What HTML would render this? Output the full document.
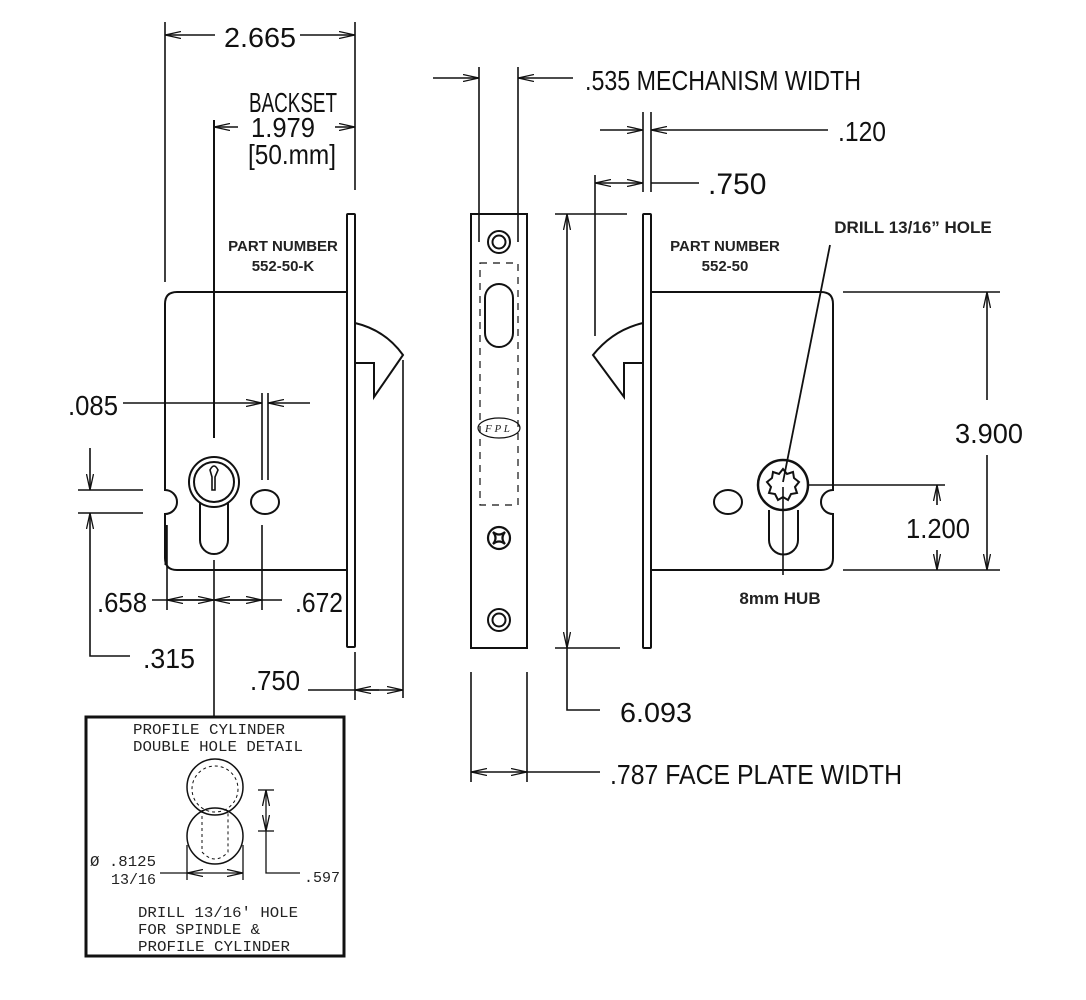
<!DOCTYPE html>
<html><head><meta charset="utf-8"><style>
html,body{margin:0;padding:0;background:#fff;}
svg{display:block}
.d{font-family:"Liberation Sans",sans-serif;font-size:28px;fill:#111;}
.b{font-family:"Liberation Sans",sans-serif;font-weight:bold;fill:#222;}
.s{font-family:"Liberation Mono",monospace;font-size:15px;fill:#222;}
</style></head><body>
<svg width="1086" height="1000" viewBox="0 0 1086 1000" xmlns="http://www.w3.org/2000/svg">
<defs>
<marker id="a" viewBox="0 0 16 8" refX="16" refY="4" markerWidth="16" markerHeight="8" markerUnits="userSpaceOnUse" orient="auto-start-reverse">
<path d="M0,0.5 L16,4 L0,7.5" fill="none" stroke="#111" stroke-width="1.3"/>
</marker>
</defs>
<g stroke="#111" stroke-width="2" fill="none">
<!-- LEFT VIEW -->
<path d="M348,292 H177 Q165,292 165,304 V490 A12,12 0 0 1 165,514 V558 Q165,570 177,570 H348"/>
<line x1="166" y1="525" x2="166" y2="565" stroke-width="3"/>
<rect x="347" y="214" width="8" height="433" rx="1"/>
<path d="M355,323 Q385,330 403,355 L374,397 V363 H355"/>
<circle cx="214" cy="482" r="25"/>
<circle cx="214" cy="482" r="20"/>
<path d="M200,502 V540 A14,14 0 0 0 228,540 V502"/>
<path d="M210,470 Q214,462 218,470 L215,477 V490 H212 V477 Z" stroke-width="1.6"/>
<ellipse cx="265" cy="502" rx="14" ry="12"/>
<line x1="214" y1="120" x2="214" y2="438"/>
<line x1="214" y1="560" x2="214" y2="716" stroke-width="1.6"/>
<line x1="165" y1="22" x2="165" y2="282" stroke-width="1.6"/>
<line x1="355" y1="22" x2="355" y2="190" stroke-width="1.6"/>
<line x1="215" y1="35" x2="165" y2="35" stroke-width="1.6" marker-end="url(#a)"/>
<line x1="300" y1="35" x2="355" y2="35" stroke-width="1.6" marker-end="url(#a)"/>
<line x1="238" y1="127" x2="214" y2="127" stroke-width="1.6" marker-end="url(#a)"/>
<line x1="335" y1="127" x2="355" y2="127" stroke-width="1.6" marker-end="url(#a)"/>
<line x1="123" y1="403" x2="262" y2="403" stroke-width="1.6" marker-end="url(#a)"/>
<line x1="310" y1="403" x2="268" y2="403" stroke-width="1.6" marker-end="url(#a)"/>
<line x1="262" y1="393" x2="262" y2="480" stroke-width="1.6"/>
<line x1="268" y1="393" x2="268" y2="480" stroke-width="1.6"/>
<line x1="78" y1="490" x2="143" y2="490" stroke-width="1.6"/>
<line x1="78" y1="513" x2="143" y2="513" stroke-width="1.6"/>
<line x1="90" y1="448" x2="90" y2="490" stroke-width="1.6" marker-end="url(#a)"/>
<path d="M90,513 V656 H130" stroke-width="1.6" marker-start="url(#a)"/>
<line x1="167" y1="525" x2="167" y2="610" stroke-width="1.6"/>
<line x1="262" y1="525" x2="262" y2="610" stroke-width="1.6"/>
<line x1="152" y1="600" x2="282" y2="600" stroke-width="1.6"/>
<line x1="190" y1="600" x2="167" y2="600" stroke-width="1.6" marker-end="url(#a)"/>
<line x1="190" y1="600" x2="214" y2="600" stroke-width="1.6" marker-end="url(#a)"/>
<line x1="238" y1="600" x2="214" y2="600" stroke-width="1.6" marker-end="url(#a)"/>
<line x1="238" y1="600" x2="262" y2="600" stroke-width="1.6" marker-end="url(#a)"/>
<line x1="403" y1="360" x2="403" y2="698" stroke-width="1.6"/>
<line x1="355" y1="652" x2="355" y2="700" stroke-width="1.6"/>
<line x1="308" y1="690" x2="379" y2="690" stroke-width="1.6"/>
<line x1="379" y1="690" x2="355" y2="690" stroke-width="1.6" marker-end="url(#a)"/>
<line x1="379" y1="690" x2="403" y2="690" stroke-width="1.6" marker-end="url(#a)"/>
<!-- detail box -->
<rect x="86" y="717" width="258" height="239" stroke-width="3"/>
<circle cx="215" cy="787" r="28" stroke-width="1.5"/>
<circle cx="215" cy="836" r="28" stroke-width="1.5"/>
<circle cx="215" cy="789" r="23" stroke-width="1" stroke-dasharray="3,3"/>
<path d="M202,810 V852 Q215,866 228,852 V810" stroke-width="1" stroke-dasharray="3,3"/>
<line x1="258" y1="790" x2="274" y2="790" stroke-width="1.3"/>
<line x1="258" y1="831" x2="274" y2="831" stroke-width="1.3"/>
<line x1="266" y1="810" x2="266" y2="790" stroke-width="1.3" marker-end="url(#a)"/>
<line x1="266" y1="810" x2="266" y2="831" stroke-width="1.3" marker-end="url(#a)"/>
<path d="M266,831 V873 H300" stroke-width="1.3"/>
<line x1="187" y1="845" x2="187" y2="880" stroke-width="1.3"/>
<line x1="243" y1="845" x2="243" y2="880" stroke-width="1.3"/>
<line x1="160" y1="873" x2="187" y2="873" stroke-width="1.3"/>
<line x1="215" y1="873" x2="187" y2="873" stroke-width="1.3" marker-end="url(#a)"/>
<line x1="215" y1="873" x2="243" y2="873" stroke-width="1.3" marker-end="url(#a)"/>

<!-- MIDDLE VIEW -->
<rect x="471" y="214" width="56" height="434"/>
<circle cx="499" cy="242" r="11"/><circle cx="499" cy="242" r="6.5"/>
<circle cx="499" cy="620" r="11"/><circle cx="499" cy="620" r="6.5"/>
<rect x="480" y="263" width="38" height="242" stroke-width="1.2" stroke-dasharray="7,6"/>
<rect x="485" y="284" width="28" height="63" rx="14"/>
<ellipse cx="499" cy="428" rx="21" ry="10" stroke-width="1.2"/>
<circle cx="499" cy="538" r="11" stroke-width="2.2"/>
<path d="M493,532 Q499,537 505,532 Q500,538 505,544 Q499,539 493,544 Q498,538 493,532Z" stroke-width="2.2"/>
<line x1="479" y1="67" x2="479" y2="242" stroke-width="1.6"/>
<line x1="518" y1="67" x2="518" y2="242" stroke-width="1.6"/>
<line x1="433" y1="78" x2="479" y2="78" stroke-width="1.6" marker-end="url(#a)"/>
<line x1="573" y1="78" x2="518" y2="78" stroke-width="1.6" marker-end="url(#a)"/>
<line x1="471" y1="672" x2="471" y2="782" stroke-width="1.6"/>
<line x1="527" y1="672" x2="527" y2="782" stroke-width="1.6"/>
<line x1="499" y1="772" x2="471" y2="772" stroke-width="1.6" marker-end="url(#a)"/>
<line x1="499" y1="772" x2="527" y2="772" stroke-width="1.6" marker-end="url(#a)"/>
<line x1="527" y1="772" x2="600" y2="772" stroke-width="1.6"/>
<line x1="555" y1="214" x2="627" y2="214" stroke-width="1.6"/>
<line x1="555" y1="648" x2="620" y2="648" stroke-width="1.6"/>
<line x1="567" y1="430" x2="567" y2="214" stroke-width="1.6" marker-end="url(#a)"/>
<line x1="567" y1="430" x2="567" y2="648" stroke-width="1.6" marker-end="url(#a)"/>
<path d="M567,648 V710 H600" stroke-width="1.6"/>

<!-- RIGHT VIEW -->
<rect x="643" y="214" width="8" height="434" rx="1"/>
<path d="M651,292 H821 Q833,292 833,304 V490 A12,12 0 0 0 833,514 V558 Q833,570 821,570 H651"/>
<path d="M643,323 Q613,330 593,355 L624,397 V363 H643"/>
<line x1="643" y1="112" x2="643" y2="192" stroke-width="1.6"/>
<line x1="651" y1="112" x2="651" y2="192" stroke-width="1.6"/>
<line x1="600" y1="130" x2="643" y2="130" stroke-width="1.6" marker-end="url(#a)"/>
<line x1="828" y1="130" x2="651" y2="130" stroke-width="1.6" marker-end="url(#a)"/>
<line x1="595" y1="175" x2="595" y2="336" stroke-width="1.6"/>
<line x1="619" y1="183" x2="595" y2="183" stroke-width="1.6" marker-end="url(#a)"/>
<line x1="619" y1="183" x2="643" y2="183" stroke-width="1.6" marker-end="url(#a)"/>
<line x1="651" y1="183" x2="699" y2="183" stroke-width="1.6"/>
<circle cx="783" cy="485" r="25" stroke-width="2.5"/>
<path d="M783,469 L787,474 L793,472 L794,478 L799,482 L795,487 L797,493 L791,494 L788,500 L783,497 L778,500 L775,494 L769,493 L771,487 L767,482 L772,478 L773,472 L779,474 Z" stroke-width="2"/>
<path d="M769,510 V540 A14,14 0 0 0 798,540 V510"/>
<ellipse cx="728" cy="502" rx="14" ry="12"/>
<line x1="783" y1="487" x2="783" y2="575" stroke-width="1.6"/>
<line x1="830" y1="245" x2="783" y2="482" stroke-width="1.8"/>
<line x1="843" y1="292" x2="1000" y2="292" stroke-width="1.6"/>
<line x1="843" y1="570" x2="1000" y2="570" stroke-width="1.6"/>
<line x1="987" y1="400" x2="987" y2="292" stroke-width="1.6" marker-end="url(#a)"/>
<line x1="987" y1="455" x2="987" y2="570" stroke-width="1.6" marker-end="url(#a)"/>
<line x1="808" y1="485" x2="945" y2="485" stroke-width="1.6"/>
<line x1="937" y1="505" x2="937" y2="485" stroke-width="1.6" marker-end="url(#a)"/>
<line x1="937" y1="550" x2="937" y2="570" stroke-width="1.6" marker-end="url(#a)"/>
</g>
<g font-size="11" font-family="Liberation Serif,serif" font-style="italic" fill="#222"><text x="485" y="432">F P L</text></g>
<text class="d" x="224" y="47" textLength="72" lengthAdjust="spacingAndGlyphs">2.665</text>
<text class="d" x="249" y="112" textLength="88" lengthAdjust="spacingAndGlyphs">BACKSET</text>
<text class="d" x="251" y="137" textLength="64" lengthAdjust="spacingAndGlyphs">1.979</text>
<text class="d" x="248" y="164" textLength="88" lengthAdjust="spacingAndGlyphs">[50.mm]</text>
<text class="d" x="68" y="415" textLength="50" lengthAdjust="spacingAndGlyphs">.085</text>
<text class="d" x="97" y="612" textLength="50" lengthAdjust="spacingAndGlyphs">.658</text>
<text class="d" x="295" y="612" textLength="48" lengthAdjust="spacingAndGlyphs">.672</text>
<text class="d" x="143" y="668" textLength="52" lengthAdjust="spacingAndGlyphs">.315</text>
<text class="d" x="250" y="690" textLength="50" lengthAdjust="spacingAndGlyphs">.750</text>
<text class="d" x="585" y="90" textLength="276" lengthAdjust="spacingAndGlyphs">.535 MECHANISM WIDTH</text>
<text class="d" x="838" y="141" textLength="48" lengthAdjust="spacingAndGlyphs">.120</text>
<text x="708" y="194" font-family="Liberation Sans,sans-serif" font-size="30" fill="#111">.750</text>
<text class="d" x="620" y="722" textLength="72" lengthAdjust="spacingAndGlyphs">6.093</text>
<text class="d" x="610" y="784" textLength="292" lengthAdjust="spacingAndGlyphs">.787 FACE PLATE WIDTH</text>
<text class="d" x="955" y="443" textLength="68" lengthAdjust="spacingAndGlyphs">3.900</text>
<text class="d" x="906" y="538" textLength="64" lengthAdjust="spacingAndGlyphs">1.200</text>
<text class="b" font-size="15" x="283" y="251" text-anchor="middle">PART NUMBER</text>
<text class="b" font-size="15" x="283" y="271" text-anchor="middle">552-50-K</text>
<text class="b" font-size="15" x="725" y="251" text-anchor="middle">PART NUMBER</text>
<text class="b" font-size="15" x="725" y="271" text-anchor="middle">552-50</text>
<text class="b" font-size="17" x="913" y="233" text-anchor="middle" fill="#444">DRILL 13/16” HOLE</text>
<text class="b" font-size="17" x="780" y="604" text-anchor="middle" fill="#444">8mm HUB</text>
<text class="s" x="133" y="734" textLength="152" lengthAdjust="spacingAndGlyphs">PROFILE CYLINDER</text>
<text class="s" x="133" y="751" textLength="170" lengthAdjust="spacingAndGlyphs">DOUBLE HOLE DETAIL</text>
<text class="s" x="90" y="866" textLength="66" lengthAdjust="spacingAndGlyphs">Ø .8125</text>
<text class="s" x="111" y="884" textLength="45" lengthAdjust="spacingAndGlyphs">13/16</text>
<text class="s" x="304" y="882" textLength="36" lengthAdjust="spacingAndGlyphs">.597</text>
<text class="s" x="138" y="917" textLength="160" lengthAdjust="spacingAndGlyphs">DRILL 13/16' HOLE</text>
<text class="s" x="138" y="934" textLength="122" lengthAdjust="spacingAndGlyphs">FOR SPINDLE &amp;</text>
<text class="s" x="138" y="951" textLength="152" lengthAdjust="spacingAndGlyphs">PROFILE CYLINDER</text>
</svg>
</body></html>
